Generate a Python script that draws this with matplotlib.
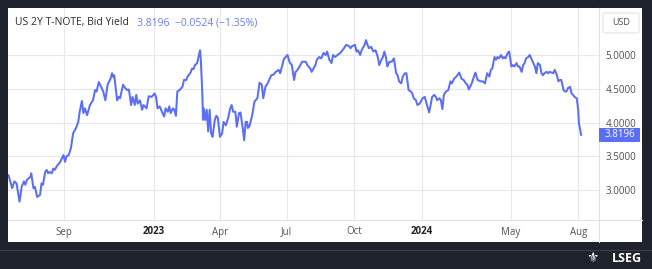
import matplotlib
matplotlib.use("Agg")
import matplotlib.pyplot as plt
import matplotlib.dates as mdates
from matplotlib.patches import Rectangle, FancyBboxPatch
from matplotlib.lines import Line2D
from matplotlib.transforms import blended_transform_factory
import numpy as np

# ---------------- data ----------------
dates = [
    '2022-06-17', '2022-06-22', '2022-06-25', '2022-06-28', '2022-07-02', '2022-07-05', '2022-07-08',
    '2022-07-10', '2022-07-12', '2022-07-17', '2022-07-18', '2022-07-21', '2022-07-23', '2022-07-26',
    '2022-07-30', '2022-08-01', '2022-08-03', '2022-08-06', '2022-08-08', '2022-08-10', '2022-08-12',
    '2022-08-15', '2022-08-17', '2022-08-19', '2022-08-22', '2022-08-26', '2022-08-31', '2022-09-02',
    '2022-09-04', '2022-09-07', '2022-09-10', '2022-09-13', '2022-09-17', '2022-09-20', '2022-09-22',
    '2022-09-25', '2022-09-27', '2022-09-29', '2022-10-02', '2022-10-06', '2022-10-10', '2022-10-13',
    '2022-10-15', '2022-10-18', '2022-10-22', '2022-10-24', '2022-10-27', '2022-10-30', '2022-11-03',
    '2022-11-05', '2022-11-07', '2022-11-08', '2022-11-12', '2022-11-14', '2022-11-16', '2022-11-20',
    '2022-11-23', '2022-11-26', '2022-11-28', '2022-12-01', '2022-12-03', '2022-12-06', '2022-12-08',
    '2022-12-10', '2022-12-13', '2022-12-16', '2022-12-18', '2022-12-22', '2022-12-25', '2022-12-29',
    '2023-01-02', '2023-01-04', '2023-01-06', '2023-01-09', '2023-01-12', '2023-01-15', '2023-01-17',
    '2023-01-20', '2023-01-22', '2023-01-24', '2023-01-27', '2023-01-29', '2023-01-31', '2023-02-02',
    '2023-02-05', '2023-02-09', '2023-02-11', '2023-02-14', '2023-02-16', '2023-02-20', '2023-02-22',
    '2023-02-24', '2023-02-26', '2023-03-01', '2023-03-04', '2023-03-05', '2023-03-06', '2023-03-08',
    '2023-03-09', '2023-03-10', '2023-03-12', '2023-03-14', '2023-03-16', '2023-03-18', '2023-03-20',
    '2023-03-22', '2023-03-25', '2023-03-27', '2023-03-29', '2023-04-01', '2023-04-04', '2023-04-06',
    '2023-04-09', '2023-04-12', '2023-04-15', '2023-04-17', '2023-04-19', '2023-04-22', '2023-04-24',
    '2023-04-27', '2023-04-29', '2023-05-02', '2023-05-04', '2023-05-06', '2023-05-08', '2023-05-09',
    '2023-05-11', '2023-05-15', '2023-05-18', '2023-05-22', '2023-05-25', '2023-05-28', '2023-05-30',
    '2023-06-02', '2023-06-05', '2023-06-07', '2023-06-10', '2023-06-13', '2023-06-16', '2023-06-20',
    '2023-06-22', '2023-06-25', '2023-06-27', '2023-07-02', '2023-07-05', '2023-07-08', '2023-07-11',
    '2023-07-13', '2023-07-15', '2023-07-18', '2023-07-22', '2023-07-27', '2023-07-29', '2023-08-02',
    '2023-08-04', '2023-08-09', '2023-08-11', '2023-08-14', '2023-08-17', '2023-08-20', '2023-08-23',
    '2023-08-25', '2023-08-28', '2023-08-31', '2023-09-02', '2023-09-05', '2023-09-08', '2023-09-12',
    '2023-09-17', '2023-09-20', '2023-09-24', '2023-09-26', '2023-09-28', '2023-10-02', '2023-10-04',
    '2023-10-06', '2023-10-09', '2023-10-11', '2023-10-15', '2023-10-17', '2023-10-19', '2023-10-21',
    '2023-10-24', '2023-10-27', '2023-10-30', '2023-11-02', '2023-11-04', '2023-11-07', '2023-11-09',
    '2023-11-11', '2023-11-13', '2023-11-15', '2023-11-18', '2023-11-21', '2023-11-24', '2023-11-27',
    '2023-11-29', '2023-12-01', '2023-12-04', '2023-12-06', '2023-12-09', '2023-12-11', '2023-12-14',
    '2023-12-17', '2023-12-19', '2023-12-21', '2023-12-24', '2023-12-26', '2023-12-29', '2024-01-02',
    '2024-01-05', '2024-01-08', '2024-01-11', '2024-01-13', '2024-01-15', '2024-01-18', '2024-01-20',
    '2024-01-22', '2024-01-25', '2024-01-27', '2024-01-29', '2024-01-31', '2024-02-03', '2024-02-06',
    '2024-02-09', '2024-02-11', '2024-02-14', '2024-02-17', '2024-02-21', '2024-02-24', '2024-02-27',
    '2024-03-01', '2024-03-03', '2024-03-05', '2024-03-09', '2024-03-12', '2024-03-14', '2024-03-17',
    '2024-03-21', '2024-03-24', '2024-03-27', '2024-03-30', '2024-04-02', '2024-04-04', '2024-04-06',
    '2024-04-09', '2024-04-11', '2024-04-13', '2024-04-15', '2024-04-18', '2024-04-20', '2024-04-22',
    '2024-04-24', '2024-04-27', '2024-04-29', '2024-05-02', '2024-05-04', '2024-05-06', '2024-05-09',
    '2024-05-11', '2024-05-13', '2024-05-16', '2024-05-18', '2024-05-20', '2024-05-22', '2024-05-25',
    '2024-05-27', '2024-05-29', '2024-05-31', '2024-06-03', '2024-06-05', '2024-06-07', '2024-06-10',
    '2024-06-12', '2024-06-14', '2024-06-16', '2024-06-19', '2024-06-21', '2024-06-23', '2024-06-28',
    '2024-06-30', '2024-07-03', '2024-07-05', '2024-07-07', '2024-07-09', '2024-07-12', '2024-07-14',
    '2024-07-16', '2024-07-18', '2024-07-21', '2024-07-23', '2024-07-25', '2024-07-27', '2024-07-30',
    '2024-08-01', '2024-08-02', '2024-08-05',
]
yields = [
    3.22, 3.03, 3.13, 3.10, 2.83, 3.05, 3.13,
    3.08, 3.15, 3.20, 3.25, 3.03, 3.05, 2.90,
    2.93, 3.10, 3.08, 3.27, 3.30, 3.25, 3.27,
    3.25, 3.32, 3.30, 3.36, 3.41, 3.52, 3.42,
    3.50, 3.52, 3.62, 3.84, 3.92, 4.01, 4.16,
    4.32, 4.14, 4.21, 4.11, 4.26, 4.33, 4.48,
    4.46, 4.60, 4.51, 4.46, 4.33, 4.56, 4.65,
    4.73, 4.67, 4.70, 4.33, 4.38, 4.36, 4.56,
    4.51, 4.48, 4.49, 4.26, 4.38, 4.26, 4.41,
    4.28, 4.33, 4.19, 4.26, 4.21, 4.39, 4.38,
    4.43, 4.38, 4.21, 4.24, 4.16, 4.09, 4.21,
    4.16, 4.24, 4.14, 4.21, 4.19, 4.10, 4.46,
    4.48, 4.53, 4.63, 4.63, 4.68, 4.74, 4.80,
    4.79, 4.85, 4.88, 5.03, 5.07, 4.93, 4.43,
    4.04, 4.21, 4.04, 4.19, 3.87, 4.19, 3.84,
    3.79, 4.04, 4.10, 4.08, 3.79, 3.84, 4.01,
    3.96, 4.06, 4.21, 4.26, 4.16, 4.16, 3.94,
    4.14, 4.15, 3.92, 3.74, 4.01, 4.01, 3.92,
    3.94, 4.11, 4.31, 4.36, 4.59, 4.56, 4.36,
    4.53, 4.58, 4.63, 4.70, 4.71, 4.75, 4.78,
    4.73, 4.85, 4.94, 5.00, 4.89, 4.85, 4.63,
    4.75, 4.77, 4.82, 4.90, 4.90, 4.85, 4.80,
    4.75, 4.85, 4.93, 4.97, 4.95, 5.03, 5.00,
    5.05, 4.93, 4.88, 5.00, 4.97, 5.00, 5.03,
    5.10, 5.15, 5.13, 5.10, 5.13, 5.15, 5.05,
    5.07, 5.00, 5.07, 5.15, 5.22, 5.15, 5.10,
    5.12, 5.05, 5.07, 4.97, 4.85, 4.93, 4.97,
    5.05, 4.97, 4.83, 4.90, 4.90, 4.95, 4.73,
    4.70, 4.61, 4.58, 4.68, 4.73, 4.73, 4.48,
    4.46, 4.43, 4.36, 4.33, 4.26, 4.28, 4.36,
    4.38, 4.26, 4.15, 4.26, 4.38, 4.41, 4.38,
    4.33, 4.36, 4.33, 4.20, 4.41, 4.46, 4.48,
    4.61, 4.58, 4.65, 4.68, 4.74, 4.65, 4.63,
    4.58, 4.56, 4.49, 4.58, 4.68, 4.74, 4.63,
    4.61, 4.61, 4.58, 4.73, 4.68, 4.78, 4.80,
    4.97, 4.93, 4.97, 4.95, 5.00, 4.95, 4.97,
    4.95, 5.03, 5.05, 4.83, 4.85, 4.83, 4.88,
    4.83, 4.83, 4.75, 4.85, 4.88, 4.95, 4.97,
    5.00, 4.95, 4.90, 4.83, 4.73, 4.88, 4.85,
    4.73, 4.70, 4.73, 4.75, 4.73, 4.75, 4.73,
    4.78, 4.70, 4.61, 4.63, 4.63, 4.48, 4.46,
    4.46, 4.51, 4.53, 4.43, 4.41, 4.38, 4.36,
    4.19, 3.99, 3.8196,
]

title_name = "US 2Y T-NOTE, Bid Yield"
last_value = 3.8196
change = -0.0524
change_pct = -1.35

x_tick_dates = ['2022-09-01', '2023-01-01', '2023-04-01', '2023-07-01',
                '2023-10-01', '2024-01-01', '2024-05-01', '2024-08-01']
x_tick_labels = ['Sep', '2023', 'Apr', 'Jul', 'Oct', '2024', 'May', 'Aug']
y_ticks = [3.0, 3.5, 4.0, 4.5, 5.0]
x_range = ['2022-06-16 08:00', '2024-08-29 08:00']
y_range = [2.559, 5.695]

# ---------------- style ----------------
W, H = 652, 269
DPI = 100
BG = '#1e222d'
LINE = '#5b6ef7'
GRID = '#e6e8ee'
SEP = '#dfe1e8'
FONT = ['Open Sans', 'DejaVu Sans']

plt.rcParams['font.family'] = FONT

fig = plt.figure(figsize=(W / DPI, H / DPI), dpi=DPI, facecolor=BG)


def fx(px):
    return px / W


def fy(py):
    return 1 - py / H


# white panel
fig.patches.append(Rectangle((fx(8), fy(242)), fx(642) - fx(8), fy(8) - fy(242),
                             transform=fig.transFigure, facecolor='white',
                             edgecolor='none', zorder=-5))

ax = fig.add_axes([fx(8), fy(220), fx(599) - fx(8), fy(8) - fy(220)])
ax.set_facecolor('none')
ax.set_zorder(1)

x = mdates.datestr2num(dates)
ax.plot(x, yields, color=LINE, lw=1.45, solid_joinstyle='round', zorder=3)

ax.set_xlim(mdates.datestr2num(x_range))
ax.set_ylim(*y_range)

ax.set_xticks(mdates.datestr2num(x_tick_dates))
ax.set_xticklabels([])
ax.set_yticks(y_ticks)
ax.yaxis.tick_right()
ax.tick_params(axis='both', length=0)
ax.tick_params(axis='y', pad=4.6, labelsize=7, labelcolor='#4a4e58')
ax.set_yticklabels([f"{v:.4f}" for v in y_ticks])
ax.grid(True, color=GRID, lw=0.8)
ax.set_axisbelow(True)
for s in ax.spines.values():
    s.set_visible(False)

# x labels
for d, lab in zip(mdates.datestr2num(x_tick_dates), x_tick_labels):
    is_year = lab.isdigit()
    ax.text(d, fy(232), lab, transform=blended_transform_factory(ax.transData, fig.transFigure),
            ha='center', va='center', fontsize=7, clip_on=False,
            color='#222222' if is_year else '#50545e',
            fontweight='bold' if is_year else 'normal')

# separators
fig.lines.append(Line2D([fx(599), fx(599)], [fy(8), fy(242)], transform=fig.transFigure,
                        color=SEP, lw=0.8, zorder=-4))
fig.lines.append(Line2D([fx(8), fx(642)], [fy(220), fy(220)], transform=fig.transFigure,
                        color=SEP, lw=0.8, zorder=-4))
fig.lines.append(Line2D([0, 1], [fy(250), fy(250)], transform=fig.transFigure,
                        color='#3a3f4b', lw=0.8, zorder=-4))

# last value label box
btr = blended_transform_factory(fig.transFigure, ax.transData)
half = 7 / 67.6
ax.add_patch(Rectangle((fx(599), last_value - half), fx(640) - fx(599), 2 * half,
                       transform=btr, facecolor=LINE, edgecolor='none',
                       clip_on=False, zorder=5))
ax.text(fx(605), last_value, f"{last_value:.4f}", transform=btr, ha='left', va='center',
        fontsize=7, color='white', zorder=6, clip_on=False)

# USD box
fig.patches.append(FancyBboxPatch((fx(603), fy(33)), fx(639) - fx(603), fy(13) - fy(33),
                                  boxstyle='round,pad=0,rounding_size=0.005',
                                  transform=fig.transFigure, facecolor='white',
                                  edgecolor='#e2e4ea', lw=0.8, zorder=2))
fig.text(fx(621), fy(23), 'USD', ha='center', va='center', fontsize=6.5, color='#4a4e58', zorder=3)

# title
fig.text(fx(15), fy(23), title_name, ha='left', va='center', fontsize=7.5, color='#2a2e39', zorder=3)
fig.text(fx(137), fy(23), f"{last_value:.4f}  \u2212{abs(change):.4f} (\u2212{abs(change_pct):.2f}%)",
         ha='left', va='center', fontsize=7.5, color='#6a7cf6', zorder=3)

# LSEG footer
fig.text(fx(592), fy(258), '\u269c', ha='center', va='center', fontsize=10,
         color='white', family=['DejaVu Sans'])
fig.text(fx(642), fy(258), 'LSEG', ha='right', va='center', fontsize=9,
         fontweight='bold', color='white')

fig.savefig('out.png', dpi=DPI, facecolor=BG)
